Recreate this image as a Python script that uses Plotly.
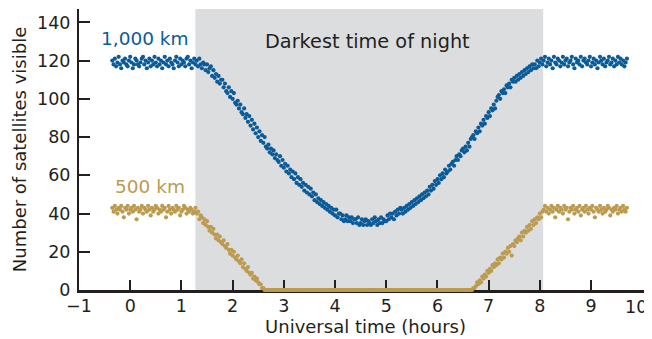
import plotly.graph_objects as go

# Sampling grid of the observations (hours, Universal time)
T_START = -0.35
T_STEP = 0.025

# Satellites visible, 1,000 km shell
blue_counts = [
    # flat before dusk
    120,118,121,117,119,122,118,116,120,119,121,118,117,120,122,119,116,118,121,120,
    118,117,119,121,122,118,120,116,119,121,117,120,118,122,119,117,121,118,120,116,
    119,122,118,120,117,121,119,118,116,120,122,119,117,121,118,120,119,117,121,122,
    118,120,116,119,121,118,
    # dark period
    120,117,121,118, 116,119,118,115, 118,114,116,117, 112,115,111,113,
    109,112,108,110, 110,106,108,104, 103,106,101,104, 100,103,98,97,
    99,95,97,93, 92,95,90,92, 88,91,86,89, 84,87,82,85,
    80,83,78,81, 77,80,75,74, 76,72,74,71, 73,69,71,68,
    67,70,65,68, 64,66,62,65, 61,63,59,62, 58,61,56,59,
    55,58,54,56, 52,55,51,54, 50,53,49,51, 47,50,46,48,
    45,47,44,46, 43,45,42,44, 41,43,40,42, 39,42,38,40,
    40,37,39,36, 37,39,36,38, 36,38,35,37, 37,35,38,34,
    35,37,34,36, 37,34,36,35, 34,37,35,38, 36,34,37,35,
    38,35,37,36, 36,39,37,40, 38,40,37,41, 39,42,40,43,
    42,40,43,41, 44,42,45,43, 46,44,47,45, 48,46,49,47,
    50,48,51,49, 52,50,54,52, 55,53,57,55, 58,56,60,58,
    61,59,63,61, 62,65,63,66, 67,65,68,70, 68,71,70,73,
    74,72,75,73, 77,75,79,80, 81,79,83,82, 85,83,87,86,
    89,87,91,90, 93,91,95,94, 97,95,99,101, 102,100,104,103,
    105,103,107,106, 108,106,110,109, 111,109,112,110, 113,111,114,112,
    115,113,116,114, 117,115,118,116, 118,116,120,117,
    119,
    # flat after dawn
    121,118,120,122,117,119,121,118,120,116,122,119,118,121,120,117,119,122,118,120,
    121,117,119,120,122,118,116,121,119,120,118,122,117,120,121,119,118,120,122,117,
    119,121,118,120,116,119,122,120,118,121,117,119,120,122,118,119,121,117,120,118,
    122,119,121,118,120,117,119,121,
]

# Satellites visible, 500 km shell
gold_counts = [
    # flat before dusk
    43,41,44,42,40,43,42,44,41,38,43,42,44,40,42,43,41,44,42,37,
    43,41,42,44,40,43,42,41,44,42,39,43,41,42,44,43,40,42,41,44,
    42,43,38,41,44,42,40,43,42,41,44,42,43,39,41,42,44,43,40,42,
    41,43,42,40,
    # falling into Earth's shadow
    41,43,40,41,37,39,38,35,37,34,36,33,31,33,30,32,29,27,29,26,
    28,25,24,26,23,22,24,21,19,21,18,20,17,16,18,15,14,16,12,14,
    11,10,12,9,8,9,6,7,5,6,4,3,3,1,1,0,
    # none visible
    0,0,0,0,0,0,0,0,0,0,0,0,0,0,0,0,0,0,0,0,
    0,0,0,0,0,0,0,0,0,0,0,0,0,0,0,0,0,0,0,0,
    0,0,0,0,0,0,0,0,0,0,0,0,0,0,0,0,0,0,0,0,
    0,0,0,0,0,0,0,0,0,0,0,0,0,0,0,0,0,0,0,0,
    0,0,0,0,0,0,0,0,0,0,0,0,0,0,0,0,0,0,0,0,
    0,0,0,0,0,0,0,0,0,0,0,0,0,0,0,0,0,0,0,0,
    0,0,0,0,0,0,0,0,0,0,0,0,0,0,0,0,0,0,0,0,
    0,0,0,0,0,0,0,0,0,0,0,0,0,0,0,0,0,0,0,0,
    0,0,
    # rising out of the shadow
    1,1,2,4,3,5,4,7,6,8,7,10,9,11,10,13,12,14,13,16,
    14,17,16,19,17,20,19,22,20,23,18,24,23,26,25,27,28,26,30,28,
    31,30,33,31,34,32,36,34,37,35,38,37,40,38,41,
    # flat after dawn
    42,44,41,43,40,42,44,41,43,38,42,44,41,43,42,40,44,42,43,37,
    41,43,42,44,40,42,43,41,44,39,42,43,41,44,42,40,43,42,44,41,
    38,43,42,41,44,42,40,43,41,42,44,43,39,42,41,43,42,44,40,42,
    43,41,44,42,41,43,
]

DARK_START = 1.273
DARK_END = 8.065

x_ticks = [-1, 0, 1, 2, 3, 4, 5, 6, 7, 8, 9]
x_tick_labels = ["\u22121", "0", "1", "2", "3", "4", "5", "6", "7", "8", "9"]
last_x_tick = 10  # its label sits at the window edge, so it is nudged left
y_ticks = [0, 20, 40, 60, 80, 100, 120, 140]

BLUE = "#0a5b98"
GOLD = "#bc9b50"
INK = "#231f20"
FONT = "DejaVu Sans"

blue_t = [T_START + T_STEP * i for i in range(len(blue_counts))]
gold_t = [T_START + T_STEP * i for i in range(len(gold_counts))]

fig = go.Figure()
fig.add_trace(go.Scatter(x=gold_t, y=gold_counts, mode="markers", name="500 km",
                         marker=dict(color=GOLD, size=4.2, line=dict(width=0)),
                         cliponaxis=False))
fig.add_trace(go.Scatter(x=blue_t, y=blue_counts, mode="markers", name="1,000 km",
                         marker=dict(color=BLUE, size=4.2, line=dict(width=0)),
                         cliponaxis=False))

fig.add_shape(type="rect", xref="x", yref="paper", x0=DARK_START, x1=DARK_END,
              y0=0, y1=1, fillcolor="#dcdddf", line=dict(width=0), layer="below")

fig.add_annotation(x=4.63, y=130.2, xref="x", yref="y", text="Darkest time of night",
                   showarrow=False, font=dict(family=FONT, size=19.3, color=INK))
fig.add_annotation(x=-0.6, y=131.7, xref="x", yref="y", text="1,000 km", xanchor="left",
                   showarrow=False, font=dict(family=FONT, size=18.5, color=BLUE))
fig.add_annotation(x=-0.34, y=54.0, xref="x", yref="y", text="500 km", xanchor="left",
                   showarrow=False, font=dict(family=FONT, size=18.5, color=GOLD))
fig.add_annotation(x=last_x_tick, y=0, xref="x", yref="paper", text=str(last_x_tick),
                   xanchor="center", yanchor="middle", xshift=-6, yshift=-17,
                   showarrow=False, font=dict(family=FONT, size=17.5, color=INK))

# The page places the figure 8 px in from the window's top-left corner,
# so the margins are offset by that amount.
fig.update_layout(
    width=652, height=339,
    margin=dict(l=71, r=8, t=1, b=57, autoexpand=False),
    paper_bgcolor="white", plot_bgcolor="white",
    showlegend=False,
    font=dict(family=FONT, size=17, color=INK),
)
fig.update_xaxes(
    range=[-1, 10.19], tickvals=x_ticks, ticktext=x_tick_labels,
    showgrid=False, zeroline=False, automargin=False,
    showline=True, linecolor=INK, linewidth=3,
    ticks="inside", ticklen=10, tickwidth=1.5, tickcolor=INK,
    tickfont=dict(family=FONT, size=17.5, color=INK),
    ticklabelstandoff=-2,
    title=dict(text="Universal time (hours)", font=dict(family=FONT, size=18, color=INK), standoff=1),
    layer="below traces",
)
fig.update_yaxes(
    range=[0, 147], tickvals=y_ticks,
    showgrid=False, zeroline=False, automargin=False,
    showline=True, linecolor=INK, linewidth=2,
    ticks="inside", ticklen=11, tickwidth=1.5, tickcolor=INK,
    tickfont=dict(family=FONT, size=17.5, color=INK),
    ticklabelstandoff=3,
    title=dict(text="Number of satellites visible", font=dict(family=FONT, size=18, color=INK), standoff=6),
    layer="below traces",
)

fig.write_html("out.html")
